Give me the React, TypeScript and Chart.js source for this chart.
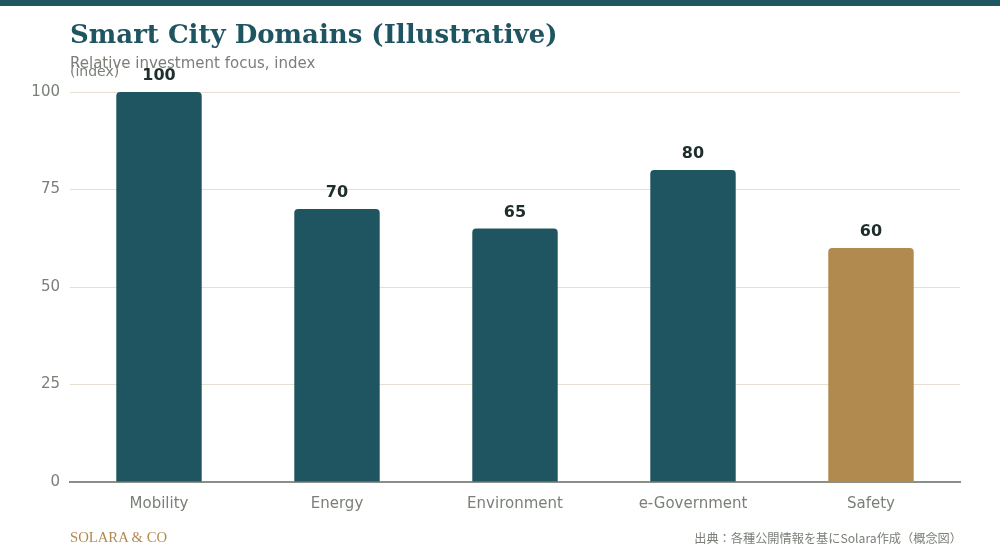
import React, { useEffect, useRef } from "react";
import { Chart, registerables } from "chart.js";

Chart.register(...registerables);

const categories = ["Mobility", "Energy", "Environment", "e-Government", "Safety"];
const values = [100, 70, 65, 80, 60];
const barColors = ["#1f5561", "#1f5561", "#1f5561", "#1f5561", "#b08a4e"];
const yTicks = [0, 25, 50, 75, 100];

const TEAL = "#1f5561";
const SANS = "'DejaVu Sans', sans-serif";

const labelPlugin = {
  id: "valueLabels",
  afterDatasetsDraw(chart: any) {
    const ctx = chart.ctx;
    const meta = chart.getDatasetMeta(0);
    ctx.save();
    ctx.font = `bold 16px ${SANS}`;
    ctx.fillStyle = "#1e2e2c";
    ctx.textAlign = "center";
    ctx.textBaseline = "alphabetic";
    meta.data.forEach((el: any, i: number) => {
      ctx.fillText(String(values[i]), el.x, el.y - 12);
    });
    ctx.font = `14px ${SANS}`;
    ctx.fillStyle = "#7a8078";
    ctx.textAlign = "left";
    ctx.fillText("(index)", chart.chartArea.left, 76);
    ctx.restore();
  },
};

export default function App() {
  const ref = useRef<HTMLCanvasElement>(null);
  useEffect(() => {
    document.body.style.margin = "0";
    const chart = new Chart(ref.current!, {
      type: "bar",
      data: {
        labels: categories,
        datasets: [
          {
            data: values,
            backgroundColor: barColors,
            borderRadius: { topLeft: 4, topRight: 4, bottomLeft: 0, bottomRight: 0 },
            borderSkipped: "bottom",
            barPercentage: 0.6,
            categoryPercentage: 0.8,
          },
        ],
      },
      options: {
        responsive: false,
        animation: false,
        layout: { padding: { top: 92, right: 40, left: 0, bottom: 0 } },
        plugins: { legend: { display: false }, tooltip: { enabled: false } },
        scales: {
          x: {
            grid: { display: false, drawTicks: false },
            border: { color: "#8a9088", width: 2 },
            ticks: { color: "#7a8078", font: { size: 15, family: SANS }, padding: 13 },
            afterFit: (s: any) => {
              s.height = 78;
            },
          },
          y: {
            min: 0,
            max: 100,
            afterBuildTicks: (s: any) => {
              s.ticks = yTicks.map((v) => ({ value: v }));
            },
            grid: { color: "#e6dfd2", drawTicks: false, lineWidth: 1 },
            border: { display: false },
            ticks: { color: "#7a8078", font: { size: 15, family: SANS }, padding: 10 },
            afterFit: (s: any) => {
              s.width = 70;
            },
          },
        },
      },
      plugins: [labelPlugin],
    });
    return () => chart.destroy();
  }, []);

  return (
    <div style={{ position: "relative", width: 1000, height: 560, background: "#fff", overflow: "hidden" }}>
      <div style={{ position: "absolute", left: 0, top: 0, width: 1000, height: 6, background: TEAL }} />
      <canvas ref={ref} width={1000} height={560} style={{ position: "absolute", left: 0, top: 0 }} />
      <div
        style={{
          position: "absolute",
          left: 70,
          top: 16,
          fontFamily: "'DejaVu Serif', serif",
          fontWeight: "bold",
          fontSize: 26,
          color: TEAL,
          whiteSpace: "nowrap",
          lineHeight: "36px",
        }}
      >
        Smart City Domains (Illustrative)
      </div>
      <div
        style={{
          position: "absolute",
          left: 70,
          top: 54,
          fontFamily: SANS,
          fontSize: 15,
          color: "#7a8078",
          whiteSpace: "nowrap",
          lineHeight: "18px",
        }}
      >
        Relative investment focus, index
      </div>
      <div
        style={{
          position: "absolute",
          left: 70,
          top: 528,
          fontFamily: "'Liberation Serif', serif",
          fontSize: 14.7,
          color: "#b08a4e",
          whiteSpace: "nowrap",
          lineHeight: "18px",
        }}
      >
        SOLARA &amp; CO
      </div>
      <div
        style={{
          position: "absolute",
          right: 38,
          top: 529,
          fontFamily: "'Noto Sans CJK JP', sans-serif",
          fontSize: 12.2,
          color: "#7a8078",
          whiteSpace: "nowrap",
          lineHeight: "18px",
        }}
      >
        出典：各種公開情報を基にSolara作成（概念図）
      </div>
    </div>
  );
}
